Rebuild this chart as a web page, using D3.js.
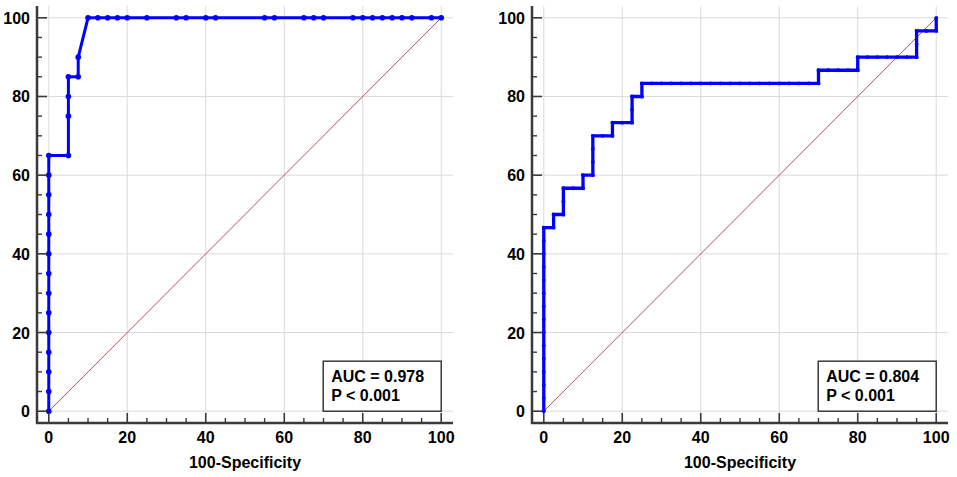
<!DOCTYPE html>
<html>
<head>
<meta charset="utf-8">
<script src="https://cdn.jsdelivr.net/npm/d3@7"></script>
<style>
  html, body { margin: 0; padding: 0; background: #fff; }
  svg { display: block; }
  text { font-family: "Liberation Sans", Arial, sans-serif; font-weight: bold; fill: #000; }
</style>
</head>
<body>
<svg id="chart" width="957" height="477"></svg>
<script>
// ---------- Data ----------
const majorTicks = [0, 20, 40, 60, 80, 100];
const minorTicks = [5, 10, 15, 25, 30, 35, 45, 50, 55, 65, 70, 75, 85, 90, 95];
const xTitle = "100-Specificity";

// Left ROC: 100-Specificity and Sensitivity
const leftFpr = [0,0,0,0,0,0,0,0,0,0,0,0,0,0,
  5,5,5,5, 7.5,7.5,
  10,12.5,15,17.5,20,25,32.5,35,40,42.5,55,57.5,65,67.5,70,77.5,80,82.5,85,87.5,90,92.5,97.5,100];
const leftTpr = [0,5,10,15,20,25,30,35,40,45,50,55,60,65,
  65,75,80,85, 85,90,
  100,100,100,100,100,100,100,100,100,100,100,100,100,100,100,100,100,100,100,100,100,100,100,100];
const leftAUC = "AUC = 0.978";
const leftP = "P < 0.001";

// Right ROC
const rightFpr = [0,0,0,0,0,0,0,0,0,0,0,0,0,0,0,
  2.5,2.5,
  5,5,5,
  7.5,10,10,
  12.5,12.5,12.5,12.5,
  15,17.5,17.5,
  20,22.5,22.5,22.5,
  25,25,
  27.5,30,32.5,35,37.5,40,42.5,45,47.5,50,52.5,55,57.5,60,62.5,65,67.5,70,70,
  72.5,75,77.5,80,80,
  82.5,85,87.5,90,92.5,95,95,95,
  97.5,100,100];
const rightTpr = [0,3.33,6.67,10,13.33,16.67,20,23.33,26.67,30,33.33,36.67,40,43.33,46.67,
  46.67,50,
  50,53.33,56.67,
  56.67,56.67,60,
  60,63.33,66.67,70,
  70,70,73.33,
  73.33,73.33,76.67,80,
  80,83.33,
  83.33,83.33,83.33,83.33,83.33,83.33,83.33,83.33,83.33,83.33,83.33,83.33,83.33,83.33,83.33,83.33,83.33,83.33,86.67,
  86.67,86.67,86.67,86.67,90,
  90,90,90,90,90,90,93.33,96.67,
  96.67,96.67,100];
const rightAUC = "AUC = 0.804";
const rightP = "P < 0.001";

// ---------- Drawing ----------
const svg = d3.select("#chart");
const domain = [-3, 103];

function panel(opts) {
  const x = d3.scaleLinear().domain(domain).range([opts.left, opts.left + 416]);
  const y = d3.scaleLinear().domain(domain).range([423, 6]);
  const g = svg.append("g");

  // grid
  g.selectAll(".gx").data(majorTicks).enter().append("line")
    .attr("x1", d => x(d)).attr("x2", d => x(d))
    .attr("y1", y(domain[1])).attr("y2", y(domain[0]))
    .attr("stroke", "#dadada").attr("stroke-width", 1);
  g.selectAll(".gy").data(majorTicks).enter().append("line")
    .attr("y1", d => y(d)).attr("y2", d => y(d))
    .attr("x1", x(domain[0])).attr("x2", x(domain[1]))
    .attr("stroke", "#dadada").attr("stroke-width", 1);

  // diagonal reference
  g.append("line")
    .attr("x1", x(0)).attr("y1", y(0)).attr("x2", x(100)).attr("y2", y(100))
    .attr("stroke", "#a65a58").attr("stroke-width", 1);

  // ROC curve
  const pts = opts.fpr.map((v, i) => [v, opts.tpr[i]]);
  g.append("path")
    .datum(pts)
    .attr("d", d3.line().x(d => x(d[0])).y(d => y(d[1])))
    .attr("fill", "none").attr("stroke", "#0000ff")
    .attr("stroke-width", opts.lw).attr("stroke-linejoin", "miter");
  g.selectAll(".pt").data(pts).enter().append("circle")
    .attr("cx", d => x(d[0])).attr("cy", d => y(d[1]))
    .attr("r", opts.r).attr("fill", "#0000ff");

  // axes
  const axColor = "#3a3a3a";
  const xAxisY = y(domain[0]);
  const yAxisX = x(domain[0]);
  g.append("line").attr("x1", yAxisX).attr("x2", yAxisX)
    .attr("y1", y(domain[1])).attr("y2", xAxisY + 1)
    .attr("stroke", axColor).attr("stroke-width", 2.5);
  g.append("line").attr("x1", yAxisX - 1).attr("x2", x(domain[1]))
    .attr("y1", xAxisY).attr("y2", xAxisY)
    .attr("stroke", axColor).attr("stroke-width", 2.5);

  // ticks (pointing inward)
  g.selectAll(".xmaj").data(majorTicks).enter().append("line")
    .attr("x1", d => x(d)).attr("x2", d => x(d))
    .attr("y1", xAxisY).attr("y2", xAxisY - 10)
    .attr("stroke", axColor).attr("stroke-width", 1.6);
  g.selectAll(".xmin").data(minorTicks).enter().append("line")
    .attr("x1", d => x(d)).attr("x2", d => x(d))
    .attr("y1", xAxisY).attr("y2", xAxisY - 5)
    .attr("stroke", axColor).attr("stroke-width", 1.4);
  g.selectAll(".ymaj").data(majorTicks).enter().append("line")
    .attr("y1", d => y(d)).attr("y2", d => y(d))
    .attr("x1", yAxisX).attr("x2", yAxisX + 10)
    .attr("stroke", axColor).attr("stroke-width", 1.6);
  g.selectAll(".ymin").data(minorTicks).enter().append("line")
    .attr("y1", d => y(d)).attr("y2", d => y(d))
    .attr("x1", yAxisX).attr("x2", yAxisX + 5)
    .attr("stroke", axColor).attr("stroke-width", 1.4);

  // tick labels
  g.selectAll(".xl").data(majorTicks).enter().append("text")
    .attr("x", d => x(d)).attr("y", 443)
    .attr("text-anchor", "middle").attr("font-size", 16)
    .text(d => d);
  g.selectAll(".yl").data(majorTicks).enter().append("text")
    .attr("x", yAxisX - 7).attr("y", d => y(d) + 6)
    .attr("text-anchor", "end").attr("font-size", 16)
    .text(d => d);

  // axis title
  g.append("text")
    .attr("x", (x(0) + x(100)) / 2).attr("y", 468)
    .attr("text-anchor", "middle").attr("font-size", 16)
    .text(xTitle);

  // AUC box
  const bw = 118, bh = 50;
  const bx = x(100) - bw, by = y(0) - bh;
  g.append("rect").attr("x", bx).attr("y", by).attr("width", bw).attr("height", bh)
    .attr("fill", "#fff").attr("stroke", axColor).attr("stroke-width", 1.5);
  g.append("text").attr("x", bx + 8).attr("y", by + 21).attr("font-size", 16).text(opts.auc);
  g.append("text").attr("x", bx + 8).attr("y", by + 40).attr("font-size", 16).text(opts.p);
}

panel({ left: 37, fpr: leftFpr, tpr: leftTpr, auc: leftAUC, p: leftP, lw: 3, r: 2.8 });
panel({ left: 532, fpr: rightFpr, tpr: rightTpr, auc: rightAUC, p: rightP, lw: 3.3, r: 1.9 });
</script>
</body>
</html>
